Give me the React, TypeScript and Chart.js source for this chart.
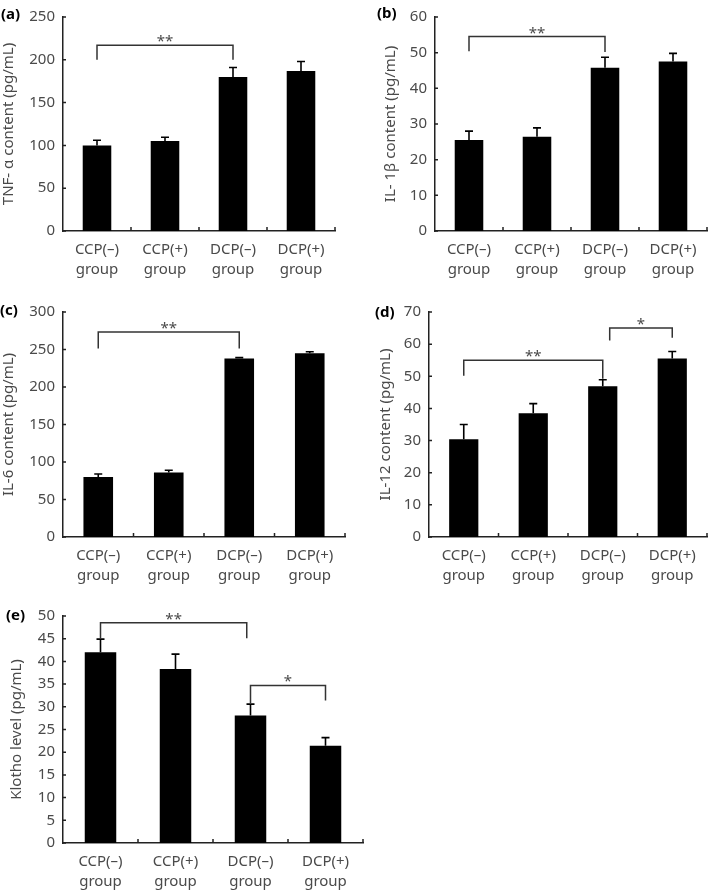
import React, { useEffect, useRef } from 'react';
import { Chart, registerables } from 'chart.js';

Chart.register(...registerables);

// ---------- data ----------
const categories = [
  ['CCP(–)', 'group'],
  ['CCP(+)', 'group'],
  ['DCP(–)', 'group'],
  ['DCP(+)', 'group'],
];

const tnfValues = [100, 105, 180, 187];
const tnfErrors = [6, 4.5, 11, 11];
const tnfTicks = [0, 50, 100, 150, 200, 250];

const il1bValues = [25.5, 26.4, 45.8, 47.5];
const il1bErrors = [2.5, 2.5, 2.9, 2.3];
const il1bTicks = [0, 10, 20, 30, 40, 50, 60];

const il6Values = [80, 86, 238, 245];
const il6Errors = [4, 3, 1.2, 2];
const il6Ticks = [0, 50, 100, 150, 200, 250, 300];

const il12Values = [30.4, 38.5, 46.9, 55.5];
const il12Errors = [4.6, 3, 2, 2.2];
const il12Ticks = [0, 10, 20, 30, 40, 50, 60, 70];

const klothoValues = [42, 38.3, 28.1, 21.4];
const klothoErrors = [2.9, 3.3, 2.5, 1.8];
const klothoTicks = [0, 5, 10, 15, 20, 25, 30, 35, 40, 45, 50];

// significance brackets: [fromCategory, toCategory, lineValue, leftLegEnd, rightLegEnd, label]
const tnfBrackets = [[0, 2, 217, 200, 200, '**']];
const il1bBrackets = [[0, 2, 54.5, 50.4, 50.2, '**']];
const il6Brackets = [[0, 2, 273.5, 251.5, 251.5, '**']];
const il12Brackets = [
  [0, 2, 55, 50.2, 49.2, '**'],
  [2.1, 3, 65, 61.1, 62, '*'],
];
const klothoBrackets = [
  [0, 1.95, 48.5, 45, 45.1, '**'],
  [2, 3, 34.7, 30.8, 31.4, '*'],
];

const FONT = '"Noto Sans", "DejaVu Sans", sans-serif';
const TEXT = '#4a4a4a';
const AXIS = '#222';

type PanelDef = {
  tag: string;
  title: string;
  values: number[];
  errors: number[];
  ticks: number[];
  brackets: any[];
  left: number; top: number; w: number; h: number;
  cl: number; cr: number; ct: number; cb: number; tx: number;
  lx: number; ly: number;
};

const panels: PanelDef[] = [
  { tag: '(a)', title: 'TNF- α content (pg/mL)', values: tnfValues, errors: tnfErrors, ticks: tnfTicks, brackets: tnfBrackets,
    left: 0, top: 0, w: 350, h: 295, cl: 63, cr: 335, ct: 12, cb: 231, tx: 9, lx: 1, ly: 15 },
  { tag: '(b)', title: 'IL- 1β content (pg/mL)', values: il1bValues, errors: il1bErrors, ticks: il1bTicks, brackets: il1bBrackets,
    left: 355, top: 0, w: 354, h: 295, cl: 435, cr: 707, ct: 9, cb: 231, tx: 391, lx: 377, ly: 14 },
  { tag: '(c)', title: 'IL-6 content (pg/mL)', values: il6Values, errors: il6Errors, ticks: il6Ticks, brackets: il6Brackets,
    left: 0, top: 295, w: 350, h: 300, cl: 63, cr: 345, ct: 310, cb: 537, tx: 9, lx: 0, ly: 311 },
  { tag: '(d)', title: 'IL-12 content (pg/mL)', values: il12Values, errors: il12Errors, ticks: il12Ticks, brackets: il12Brackets,
    left: 355, top: 295, w: 354, h: 300, cl: 429, cr: 707, ct: 311, cb: 537, tx: 386, lx: 375, ly: 313 },
  { tag: '(e)', title: 'Klotho level (pg/mL)', values: klothoValues, errors: klothoErrors, ticks: klothoTicks, brackets: klothoBrackets,
    left: 0, top: 595, w: 380, h: 295, cl: 63, cr: 363, ct: 616, cb: 843, tx: 17, lx: 6, ly: 616 },
];

function Panel({ p }: { p: PanelDef }) {
  const ref = useRef<HTMLCanvasElement>(null);
  useEffect(() => {
    const titleLH = 18;
    const padLeft = p.tx - titleLH / 2 - p.left;
    const yWidth = p.cl - (p.tx - titleLH / 2);
    const padTop = p.ct - p.top;
    const padRight = p.left + p.w - p.cr;
    const xHeight = p.top + p.h - p.cb;

    const extras = {
      id: 'panelExtras',
      afterDatasetsDraw(chart: any) {
        const ctx = chart.ctx;
        const meta = chart.getDatasetMeta(0);
        const y = chart.scales.y;
        ctx.save();
        ctx.strokeStyle = '#000';
        ctx.lineWidth = 1.6;
        meta.data.forEach((bar: any, i: number) => {
          const top = y.getPixelForValue(p.values[i] + p.errors[i]);
          const base = y.getPixelForValue(p.values[i]);
          ctx.beginPath();
          ctx.moveTo(bar.x, base);
          ctx.lineTo(bar.x, top);
          ctx.moveTo(bar.x - 4, top);
          ctx.lineTo(bar.x + 4, top);
          ctx.stroke();
        });
        ctx.restore();
      },
      afterDraw(chart: any) {
        const ctx = chart.ctx;
        const x = chart.scales.x;
        const y = chart.scales.y;
        const area = chart.chartArea;
        ctx.save();
        // inward ticks
        ctx.strokeStyle = AXIS;
        ctx.lineWidth = 1.5;
        ctx.beginPath();
        for (let i = 0; i < categories.length; i++) {
          const px = x.getPixelForValue(i + 0.5);
          ctx.moveTo(px, area.bottom);
          ctx.lineTo(px, area.bottom - 4);
        }
        p.ticks.forEach((t) => {
          const py = y.getPixelForValue(t);
          ctx.moveTo(area.left, py);
          ctx.lineTo(area.left + 3, py);
        });
        ctx.stroke();
        // brackets
        ctx.strokeStyle = '#333';
        ctx.lineWidth = 1.5;
        ctx.fillStyle = TEXT;
        ctx.font = `15px ${FONT}`;
        ctx.textAlign = 'center';
        ctx.textBaseline = 'alphabetic';
        p.brackets.forEach((b: any) => {
          const [from, to, lineV, lEnd, rEnd, label] = b;
          const x1 = x.getPixelForValue(from);
          const x2 = x.getPixelForValue(to);
          const yl = y.getPixelForValue(lineV);
          ctx.beginPath();
          ctx.moveTo(x1, y.getPixelForValue(lEnd));
          ctx.lineTo(x1, yl);
          ctx.lineTo(x2, yl);
          ctx.lineTo(x2, y.getPixelForValue(rEnd));
          ctx.stroke();
          ctx.fillText(label, (x1 + x2) / 2, yl + 1);
        });
        // panel tag
        ctx.fillStyle = '#000';
        ctx.font = `bold 15px ${FONT}`;
        ctx.textAlign = 'left';
        ctx.textBaseline = 'middle';
        ctx.fillText(p.tag, p.lx - p.left, p.ly - p.top);
        ctx.restore();
      },
    };

    const chart = new Chart(ref.current as HTMLCanvasElement, {
      type: 'bar',
      data: {
        labels: categories,
        datasets: [
          {
            data: p.values,
            backgroundColor: '#000',
            borderWidth: 0,
            barPercentage: 0.42,
            categoryPercentage: 1,
          },
        ],
      },
      options: {
        responsive: false,
        animation: false,
        layout: { padding: { left: padLeft, top: padTop, right: padRight, bottom: 0 } },
        plugins: { legend: { display: false }, tooltip: { enabled: false } },
        scales: {
          x: {
            grid: { display: false, drawTicks: false },
            border: { display: true, color: AXIS, width: 1.5 },
            ticks: {
              color: TEXT,
              font: { family: FONT, size: 15, lineHeight: 1.3 },
              padding: 9,
              maxRotation: 0,
              autoSkip: false,
            },
            afterFit: (s: any) => { s.height = xHeight; },
          },
          y: {
            min: p.ticks[0],
            max: p.ticks[p.ticks.length - 1],
            grid: { display: false, drawTicks: false },
            border: { display: true, color: AXIS, width: 1.5 },
            ticks: {
              stepSize: p.ticks[1] - p.ticks[0],
              color: TEXT,
              font: { family: FONT, size: 15 },
              padding: 8,
            },
            title: {
              display: true,
              text: p.title,
              color: TEXT,
              font: { family: FONT, size: 15, lineHeight: 1.2 },
              padding: { top: 0, bottom: 0 },
            },
            afterFit: (s: any) => { s.width = yWidth; },
          },
        },
      },
      plugins: [extras],
    } as any);
    return () => chart.destroy();
  }, []);
  return (
    <canvas
      ref={ref}
      width={p.w}
      height={p.h}
      style={{ position: 'absolute', left: p.left, top: p.top, width: p.w, height: p.h }}
    />
  );
}

export default function App() {
  return (
    <div style={{ position: 'absolute', left: 0, top: 0, width: 709, height: 890, background: '#fff' }}>
      {panels.map((p) => (
        <Panel key={p.tag} p={p} />
      ))}
    </div>
  );
}
